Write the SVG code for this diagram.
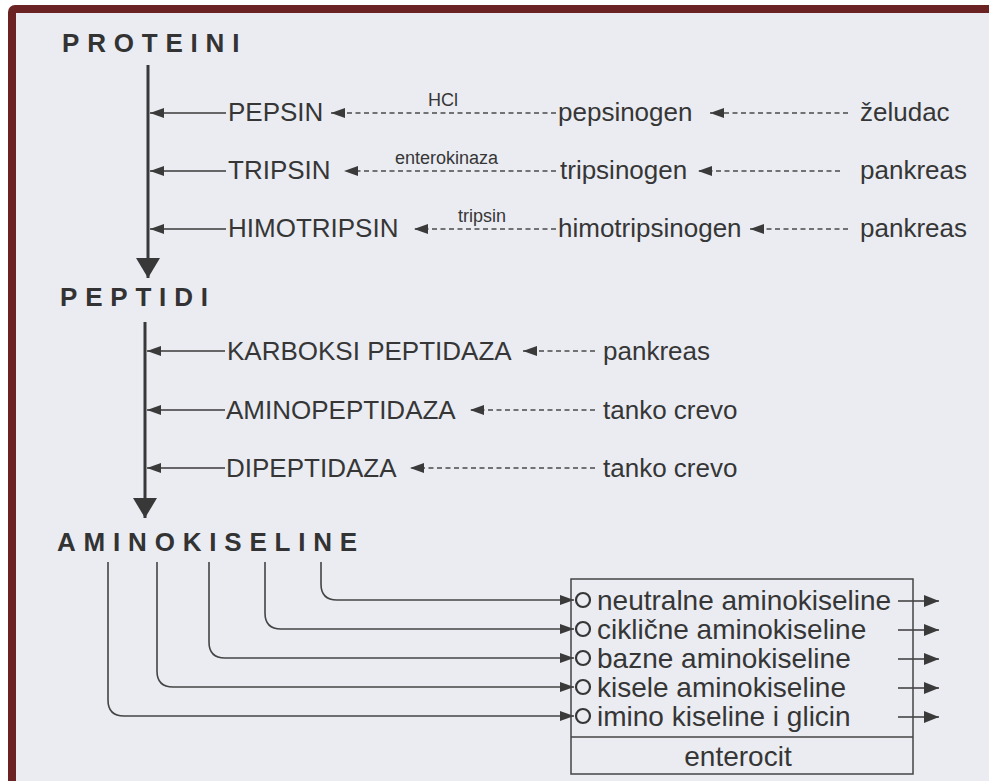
<svg xmlns="http://www.w3.org/2000/svg" width="989" height="781" viewBox="0 0 989 781">
  <style>
    .lbl { font-family: "Liberation Sans", Arial, sans-serif; font-size: 26px; fill: #363636; }
    .hdr { font-family: "Liberation Sans", Arial, sans-serif; font-size: 26px; font-weight: bold; fill: #333; letter-spacing: 7.8px; }
    .sm { font-family: "Liberation Sans", Arial, sans-serif; font-size: 18px; fill: #363636; }
    .box { font-family: "Liberation Sans", Arial, sans-serif; font-size: 28px; fill: #363636; }
    .solid { stroke: #3a3a3a; stroke-width: 1.6; fill: none; }
    .dash { stroke: #4a4a4a; stroke-width: 1.5; fill: none; stroke-dasharray: 5 3.5; }
    .main { stroke: #383838; stroke-width: 3; fill: none; }
    .curve { stroke: #444; stroke-width: 1.6; fill: none; }
  </style>
  <defs>
    <marker id="head" markerUnits="userSpaceOnUse" markerWidth="14" markerHeight="10" refX="14" refY="5" orient="auto">
      <path d="M0,0 L14,5 L0,10 z" fill="#3a3a3a"/>
    </marker>
    <marker id="outhead" markerUnits="userSpaceOnUse" markerWidth="15" markerHeight="12" refX="15" refY="6" orient="auto">
      <path d="M0,0 L15,6 L0,12 z" fill="#3a3a3a"/>
    </marker>
    <marker id="bighead" markerUnits="userSpaceOnUse" markerWidth="20" markerHeight="24" refX="20" refY="12" orient="auto">
      <path d="M0,0 L20,12 L0,24 z" fill="#383838"/>
    </marker>
  </defs>

  <!-- page with dark red frame on the top and left -->
  <rect x="0" y="0" width="989" height="781" fill="#ffffff"/>
  <rect x="8" y="5" width="1000" height="800" rx="7" fill="#6b2222"/>
  <rect x="16" y="13" width="980" height="770" fill="#eaecf2"/>

  <!-- connectors -->
  <g id="connectors">
    <!-- main flow -->
    <line class="main" x1="148" y1="65" x2="148" y2="278" marker-end="url(#bighead)"/>
    <line class="main" x1="145" y1="322" x2="145" y2="518" marker-end="url(#bighead)"/>

    <!-- enzymes into the first stage -->
    <line class="solid" x1="226" y1="113" x2="150" y2="113" marker-end="url(#head)"/>
    <line class="solid" x1="226" y1="171" x2="150" y2="171" marker-end="url(#head)"/>
    <line class="solid" x1="226" y1="229" x2="150" y2="229" marker-end="url(#head)"/>
    <line class="dash" x1="556" y1="113" x2="331" y2="113" marker-end="url(#head)"/>
    <line class="dash" x1="556" y1="171" x2="344" y2="171" marker-end="url(#head)"/>
    <line class="dash" x1="556" y1="229" x2="414" y2="229" marker-end="url(#head)"/>
    <line class="dash" x1="848" y1="113" x2="710" y2="113" marker-end="url(#head)"/>
    <line class="dash" x1="840" y1="171" x2="698" y2="171" marker-end="url(#head)"/>
    <line class="dash" x1="848" y1="229" x2="750" y2="229" marker-end="url(#head)"/>

    <!-- enzymes into the second stage -->
    <line class="solid" x1="225" y1="351" x2="147" y2="351" marker-end="url(#head)"/>
    <line class="solid" x1="225" y1="410" x2="147" y2="410" marker-end="url(#head)"/>
    <line class="solid" x1="225" y1="468" x2="147" y2="468" marker-end="url(#head)"/>
    <line class="dash" x1="595" y1="351" x2="523" y2="351" marker-end="url(#head)"/>
    <line class="dash" x1="595" y1="410" x2="470" y2="410" marker-end="url(#head)"/>
    <line class="dash" x1="595" y1="468" x2="410" y2="468" marker-end="url(#head)"/>

    <!-- amino acid classes into the enterocyte -->
    <path class="curve" d="M321,562 V584 Q321,600 337,600 H574" marker-end="url(#head)"/>
    <path class="curve" d="M265,562 V613 Q265,629 281,629 H574" marker-end="url(#head)"/>
    <path class="curve" d="M209,562 V642 Q209,658 225,658 H574" marker-end="url(#head)"/>
    <path class="curve" d="M157,562 V671 Q157,687 173,687 H574" marker-end="url(#head)"/>
    <path class="curve" d="M108,562 V700 Q108,716 124,716 H574" marker-end="url(#head)"/>

    <!-- exits from the enterocyte -->
    <line class="solid" x1="898" y1="601" x2="939" y2="601" marker-end="url(#outhead)"/>
    <line class="solid" x1="898" y1="630" x2="939" y2="630" marker-end="url(#outhead)"/>
    <line class="solid" x1="898" y1="659" x2="939" y2="659" marker-end="url(#outhead)"/>
    <line class="solid" x1="898" y1="688" x2="939" y2="688" marker-end="url(#outhead)"/>
    <line class="solid" x1="898" y1="717" x2="939" y2="717" marker-end="url(#outhead)"/>
  </g>

  <!-- stage headings -->
  <g id="n-proteini"><text class="hdr" x="62" y="52">PROTEINI</text></g>
  <g id="n-peptidi"><text class="hdr" x="60" y="306">PEPTIDI</text></g>
  <g id="n-aminokiseline"><text class="hdr" x="57" y="551">AMINOKISELINE</text></g>

  <!-- proteolytic enzymes, their precursors and sources -->
  <g id="n-pepsin"><text class="lbl" x="228" y="121">PEPSIN</text></g>
  <g id="n-hcl"><text class="sm" x="428" y="106">HCl</text></g>
  <g id="n-pepsinogen"><text class="lbl" x="558" y="121">pepsinogen</text></g>
  <g id="n-zeludac"><text class="lbl" x="860" y="121">želudac</text></g>

  <g id="n-tripsin"><text class="lbl" x="228" y="179">TRIPSIN</text></g>
  <g id="n-enterokinaza"><text class="sm" x="395" y="164">enterokinaza</text></g>
  <g id="n-tripsinogen"><text class="lbl" x="560" y="179">tripsinogen</text></g>
  <g id="n-pankreas1"><text class="lbl" x="860" y="179">pankreas</text></g>

  <g id="n-himotripsin"><text class="lbl" x="228" y="237">HIMOTRIPSIN</text></g>
  <g id="n-tripsin-act"><text class="sm" x="458" y="222">tripsin</text></g>
  <g id="n-himotripsinogen"><text class="lbl" x="558" y="237">himotripsinogen</text></g>
  <g id="n-pankreas2"><text class="lbl" x="860" y="237">pankreas</text></g>

  <g id="n-karboksipeptidaza"><text class="lbl" x="227" y="360">KARBOKSI PEPTIDAZA</text></g>
  <g id="n-pankreas3"><text class="lbl" x="603" y="360">pankreas</text></g>
  <g id="n-aminopeptidaza"><text class="lbl" x="226" y="419">AMINOPEPTIDAZA</text></g>
  <g id="n-crevo1"><text class="lbl" x="603" y="419">tanko crevo</text></g>
  <g id="n-dipeptidaza"><text class="lbl" x="226" y="477">DIPEPTIDAZA</text></g>
  <g id="n-crevo2"><text class="lbl" x="603" y="477">tanko crevo</text></g>

  <!-- enterocyte with its transporters -->
  <g id="n-enterocit">
    <rect x="571" y="579" width="342" height="195" fill="none" stroke="#444" stroke-width="1.5"/>
    <line x1="571" y1="737" x2="913" y2="737" stroke="#444" stroke-width="1.5"/>
    <g fill="none" stroke="#363636" stroke-width="2.2">
      <circle cx="583" cy="600" r="7"/>
      <circle cx="583" cy="629" r="7"/>
      <circle cx="583" cy="658" r="7"/>
      <circle cx="583" cy="687" r="7"/>
      <circle cx="583" cy="716" r="7"/>
    </g>
    <text class="box" x="597" y="610">neutralne aminokiseline</text>
    <text class="box" x="597" y="639">ciklične aminokiseline</text>
    <text class="box" x="597" y="668">bazne aminokiseline</text>
    <text class="box" x="597" y="697">kisele aminokiseline</text>
    <text class="box" x="597" y="726">imino kiseline i glicin</text>
    <text class="box" x="738" y="766" text-anchor="middle">enterocit</text>
  </g>
</svg>
